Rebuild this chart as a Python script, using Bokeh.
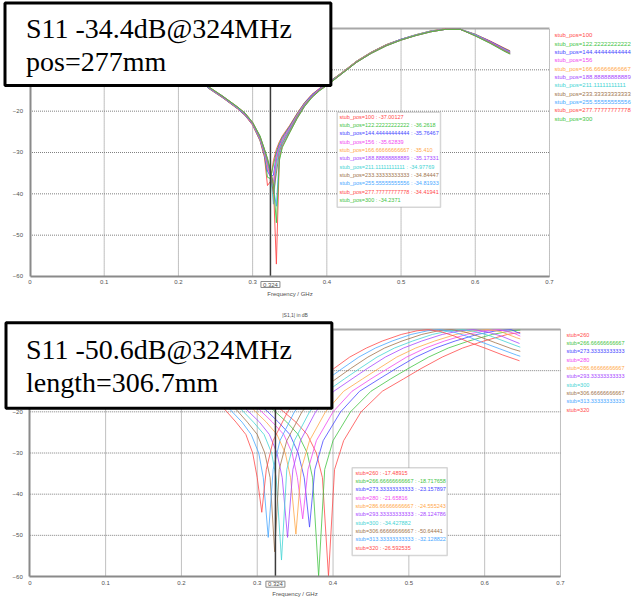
from bokeh.plotting import figure
from bokeh.models import Range1d, FixedTicker, Label, LabelSet, ColumnDataSource, BoxAnnotation
from bokeh.layouts import column
from bokeh.core.properties import value
from bokeh.embed import file_html
from bokeh.resources import INLINE

# ---------------- data: top panel (|S11| in dB vs frequency, stub_pos sweep) ----------------
FREQ_TOP = [0.200, 0.220, 0.240, 0.260, 0.280, 0.290, 0.300, 0.310, 0.316, 0.320, 0.324, 0.328,
            0.332, 0.336, 0.340, 0.350, 0.360, 0.370, 0.380, 0.390, 0.400, 0.420, 0.440, 0.460,
            0.480, 0.500, 0.520, 0.540, 0.560, 0.580, 0.600, 0.620, 0.640, 0.647]
POS_100 = [-8.0, -10.5, -14.4, -16.8, -19.5, -21.1, -23.4, -27.2, -31.2, -38.0, -37.0, -32.0, -29.2, -27.4, -26.0, -23.4, -20.5, -17.9, -15.9, -14.5, -13.3, -10.7, -7.9, -5.7, -3.9, -2.6, -1.5, -0.6, -0.1, -0.2, -1.4, -3.0, -4.8, -5.4]
POS_122 = [-8.0, -10.5, -14.4, -16.8, -19.4, -21.0, -23.3, -27.1, -30.8, -36.0, -36.3, -33.0, -29.8, -27.8, -26.3, -23.6, -20.6, -18.0, -16.0, -14.6, -13.3, -10.7, -7.9, -5.7, -3.9, -2.6, -1.5, -0.6, -0.1, -0.2, -1.4, -3.1, -4.9, -5.5]
POS_144 = [-7.9, -10.4, -14.3, -16.7, -19.4, -21.0, -23.2, -26.9, -30.5, -34.5, -35.8, -35.5, -30.5, -28.2, -26.6, -23.8, -20.8, -18.1, -16.1, -14.6, -13.4, -10.8, -8.0, -5.8, -4.0, -2.6, -1.6, -0.7, -0.1, -0.2, -1.5, -3.1, -5.0, -5.6]
POS_156 = [-7.9, -10.4, -14.3, -16.7, -19.3, -20.9, -23.2, -26.8, -30.3, -33.8, -35.6, -37.0, -31.0, -28.5, -26.8, -24.0, -20.9, -18.2, -16.2, -14.7, -13.5, -10.8, -8.0, -5.8, -4.0, -2.7, -1.6, -0.7, -0.1, -0.2, -1.5, -3.2, -5.1, -5.7]
POS_167 = [-7.9, -10.4, -14.2, -16.6, -19.3, -20.8, -23.1, -26.7, -30.1, -33.3, -35.4, -38.5, -31.5, -28.8, -27.0, -24.2, -21.0, -18.3, -16.3, -14.8, -13.5, -10.8, -8.0, -5.8, -4.0, -2.7, -1.6, -0.7, -0.1, -0.2, -1.6, -3.3, -5.2, -5.8]
POS_189 = [-7.9, -10.3, -14.2, -16.6, -19.2, -20.8, -23.0, -26.6, -29.9, -32.8, -35.2, -40.0, -32.0, -29.0, -27.2, -24.3, -21.2, -18.4, -16.3, -14.8, -13.6, -10.9, -8.1, -5.9, -4.1, -2.7, -1.6, -0.7, -0.2, -0.2, -1.6, -3.3, -5.2, -5.8]
POS_211 = [-7.9, -10.3, -14.1, -16.5, -19.2, -20.7, -22.9, -26.4, -29.7, -32.4, -35.0, -42.5, -33.0, -29.4, -27.5, -24.5, -21.3, -18.5, -16.4, -14.9, -13.6, -10.9, -8.1, -5.9, -4.1, -2.7, -1.6, -0.7, -0.2, -0.2, -1.6, -3.4, -5.3, -5.9]
POS_233 = [-7.8, -10.3, -14.1, -16.5, -19.1, -20.7, -22.9, -26.3, -29.5, -32.0, -34.8, -40.0, -35.0, -30.0, -27.8, -24.7, -21.4, -18.6, -16.5, -14.9, -13.7, -10.9, -8.1, -5.9, -4.1, -2.8, -1.7, -0.8, -0.2, -0.2, -1.7, -3.4, -5.4, -6.0]
POS_256 = [-7.8, -10.2, -14.1, -16.4, -19.1, -20.6, -22.8, -26.2, -29.4, -31.8, -34.8, -38.5, -43.0, -30.8, -28.2, -24.9, -21.6, -18.7, -16.6, -15.0, -13.7, -11.0, -8.2, -6.0, -4.2, -2.8, -1.7, -0.8, -0.2, -0.2, -1.7, -3.5, -5.5, -6.1]
POS_278 = [-7.8, -10.2, -14.0, -16.4, -19.0, -20.5, -22.7, -26.1, -29.3, -31.6, -34.4, -38.0, -57.0, -31.5, -28.5, -25.1, -21.7, -18.8, -16.6, -15.0, -13.8, -11.0, -8.2, -6.0, -4.2, -2.8, -1.7, -0.8, -0.2, -0.2, -1.8, -3.5, -5.5, -6.1]
POS_300 = [-7.8, -10.2, -14.0, -16.4, -19.0, -20.5, -22.7, -26.0, -29.2, -31.4, -34.2, -37.5, -47.0, -32.0, -28.8, -25.2, -21.8, -18.9, -16.7, -15.1, -13.8, -11.0, -8.2, -6.0, -4.2, -2.8, -1.7, -0.8, -0.2, -0.2, -1.8, -3.6, -5.6, -6.2]
TOP_LABELS = ["stub_pos=100", "stub_pos=122.22222222222", "stub_pos=144.44444444444", "stub_pos=156",
              "stub_pos=166.66666666667", "stub_pos=188.88888888889", "stub_pos=211.11111111111",
              "stub_pos=233.33333333333", "stub_pos=255.55555555556", "stub_pos=277.77777777778", "stub_pos=300"]
TOP_MARKER = ["-37.00127", "-36.2618", "-35.76467", "-35.62839", "-35.410", "-35.17331", "-34.97769",
              "-34.84447", "-34.81933", "-34.41941", "-34.2371"]
TOP_TITLE = "S11 -34.4dB@324MHz\npos=277mm"

# ---------------- data: bottom panel (stub length sweep) ----------------
F_260 = [0.200, 0.276, 0.299, 0.319, 0.335, 0.351, 0.366, 0.378, 0.386, 0.394, 0.402, 0.414, 0.437, 0.465, 0.493, 0.516, 0.544, 0.571, 0.599, 0.630, 0.647]
S_260 = [-4.7, -11.5, -15.0, -17.5, -20.0, -22.5, -25.5, -30.0, -36.0, -60.0, -34.0, -27.0, -20.0, -15.0, -12.0, -9.5, -6.7, -4.5, -2.8, -1.2, -0.7]
F_267 = [0.200, 0.267, 0.290, 0.309, 0.324, 0.339, 0.354, 0.366, 0.373, 0.381, 0.389, 0.400, 0.423, 0.450, 0.476, 0.499, 0.526, 0.552, 0.579, 0.610, 0.636, 0.647]
S_267 = [-5.2, -11.5, -15.0, -17.5, -20.0, -22.5, -25.5, -30.0, -36.0, -60.0, -34.0, -27.0, -20.0, -15.0, -12.0, -9.5, -6.7, -4.5, -2.8, -1.2, -0.3, -0.15]
F_273 = [0.200, 0.258, 0.280, 0.299, 0.314, 0.328, 0.343, 0.354, 0.362, 0.369, 0.376, 0.387, 0.410, 0.435, 0.461, 0.483, 0.509, 0.535, 0.561, 0.590, 0.616, 0.635, 0.647]
S_273 = [-5.8, -11.5, -15.0, -17.5, -20.0, -22.5, -25.5, -30.0, -36.0, -48.0, -34.0, -27.0, -20.0, -15.0, -12.0, -9.5, -6.7, -4.5, -2.8, -1.2, -0.3, -0.05, -1.0]
F_280 = [0.200, 0.252, 0.274, 0.292, 0.306, 0.320, 0.335, 0.346, 0.353, 0.360, 0.367, 0.378, 0.400, 0.425, 0.450, 0.472, 0.497, 0.522, 0.547, 0.576, 0.601, 0.619, 0.637, 0.647]
S_280 = [-6.2, -11.5, -15.0, -17.5, -20.0, -22.5, -25.5, -30.0, -36.0, -46.0, -34.0, -27.0, -20.0, -15.0, -12.0, -9.5, -6.7, -4.5, -2.8, -1.2, -0.3, -0.05, -0.8, -1.6]
F_287 = [0.200, 0.246, 0.267, 0.284, 0.298, 0.312, 0.326, 0.337, 0.344, 0.351, 0.358, 0.369, 0.390, 0.414, 0.439, 0.460, 0.484, 0.509, 0.534, 0.562, 0.586, 0.604, 0.621, 0.642, 0.647]
S_287 = [-6.6, -11.5, -15.0, -17.5, -20.0, -22.5, -25.5, -30.0, -36.0, -49.7, -34.0, -27.0, -20.0, -15.0, -12.0, -9.5, -6.7, -4.5, -2.8, -1.2, -0.3, -0.05, -0.5, -2.0, -2.3]
F_293 = [0.200, 0.238, 0.258, 0.275, 0.289, 0.303, 0.316, 0.326, 0.333, 0.340, 0.347, 0.357, 0.377, 0.401, 0.425, 0.445, 0.469, 0.493, 0.517, 0.544, 0.568, 0.585, 0.602, 0.622, 0.646]
S_293 = [-7.1, -11.5, -15.0, -17.5, -20.0, -22.5, -25.5, -30.0, -36.0, -50.5, -34.0, -27.0, -20.0, -15.0, -12.0, -9.5, -6.7, -4.5, -2.8, -1.2, -0.3, -0.05, -0.5, -1.6, -3.4]
F_300 = [0.200, 0.232, 0.252, 0.269, 0.282, 0.295, 0.309, 0.319, 0.325, 0.332, 0.339, 0.349, 0.369, 0.392, 0.415, 0.435, 0.458, 0.481, 0.505, 0.531, 0.554, 0.571, 0.588, 0.608, 0.631, 0.647]
S_300 = [-7.6, -11.5, -15.0, -17.5, -20.0, -22.5, -25.5, -30.0, -36.0, -56.0, -34.0, -27.0, -20.0, -15.0, -12.0, -9.5, -6.7, -4.5, -2.8, -1.2, -0.3, -0.05, -0.5, -1.6, -3.2, -4.3]
F_307 = [0.200, 0.226, 0.245, 0.262, 0.275, 0.287, 0.300, 0.310, 0.317, 0.323, 0.329, 0.339, 0.359, 0.381, 0.404, 0.423, 0.446, 0.468, 0.491, 0.517, 0.539, 0.556, 0.572, 0.591, 0.614, 0.636, 0.647]
S_307 = [-8.3, -11.5, -15.0, -17.5, -20.0, -22.5, -25.5, -30.0, -36.0, -54.0, -34.0, -27.0, -20.0, -15.0, -12.0, -9.5, -6.7, -4.5, -2.8, -1.2, -0.3, -0.05, -0.5, -1.6, -3.2, -4.7, -5.3]
F_313 = [0.200, 0.220, 0.239, 0.255, 0.267, 0.280, 0.292, 0.302, 0.308, 0.3145, 0.321, 0.330, 0.349, 0.371, 0.393, 0.412, 0.434, 0.456, 0.478, 0.503, 0.525, 0.541, 0.557, 0.576, 0.598, 0.620, 0.642, 0.647]
S_313 = [-8.9, -11.5, -15.0, -17.5, -20.0, -22.5, -25.5, -30.0, -36.0, -50.5, -34.0, -27.0, -20.0, -15.0, -12.0, -9.5, -6.7, -4.5, -2.8, -1.2, -0.3, -0.05, -0.5, -1.6, -3.2, -4.7, -6.2, -6.5]
F_320 = [0.200, 0.214, 0.233, 0.248, 0.260, 0.272, 0.285, 0.294, 0.300, 0.306, 0.312, 0.321, 0.340, 0.361, 0.383, 0.401, 0.422, 0.444, 0.465, 0.490, 0.511, 0.526, 0.542, 0.560, 0.581, 0.603, 0.624, 0.646]
S_320 = [-9.6, -11.5, -15.0, -17.5, -20.0, -22.5, -25.5, -30.0, -36.0, -44.4, -34.0, -27.0, -20.0, -15.0, -12.0, -9.5, -6.7, -4.5, -2.8, -1.2, -0.3, -0.05, -0.5, -1.6, -3.2, -4.7, -6.2, -7.6]
BOT_LABELS = ["stub=260", "stub=266.66666666667", "stub=273.33333333333", "stub=280", "stub=286.66666666667",
              "stub=293.33333333333", "stub=300", "stub=306.66666666667", "stub=313.33333333333", "stub=320"]
BOT_MARKER = ["-17.48915", "-18.717658", "-23.157897", "-21.65816", "-24.555243", "-28.124786",
              "-34.427882", "-50.64441", "-32.128822", "-26.592535"]
BOT_TITLE = "S11 -50.6dB@324MHz\nlength=306.7mm"
BOT_HEADER = "|S1,1| in dB"
MARKER_FREQ = 0.324
X_TICKS = [0, 0.1, 0.2, 0.3, 0.4, 0.5, 0.6, 0.7]
Y_TICKS = [-60, -50, -40, -30, -20, -10, 0]

# ---------------- styles ----------------
PALETTE = ["#ff4a4a", "#44c444", "#4848ff", "#f048f0", "#ffa848", "#a848ff", "#44d4d4",
           "#a0744c", "#48a8ff", "#ff4a4a", "#44c444"]
SMALL = "5.5px"
TICK_FONT = "Liberation Sans"
W, H = 632, 299


class Panel:
    """pixel <-> data mapping for one CST-style panel (layout only)."""
    def __init__(self, x0, xs, y0, ys):
        self.x0, self.xs, self.y0, self.ys = x0, xs, y0, ys

    def fx(self, px):
        return (px - self.x0) / self.xs

    def fy(self, py):
        return -(py - self.y0) / self.ys


def make_fig(m):
    p = figure(frame_width=W, frame_height=H,
               x_range=Range1d(m.fx(0), m.fx(W)), y_range=Range1d(m.fy(H), m.fy(0)),
               output_backend="svg", toolbar_location=None,
               min_border_left=0, min_border_right=0, min_border_top=0, min_border_bottom=0)
    p.outline_line_color = None
    p.xgrid.visible = False
    p.ygrid.visible = False
    xa, ya = p.xaxis[0], p.yaxis[0]
    xa.fixed_location = -60
    ya.fixed_location = 0
    xa.bounds = (0, 0.7)
    ya.bounds = (-60, 0)
    xa.ticker = FixedTicker(ticks=X_TICKS)
    ya.ticker = FixedTicker(ticks=Y_TICKS)
    xa.major_label_overrides = {0: "0"}
    for a in (xa, ya):
        a.major_tick_line_color = None
        a.minor_tick_line_color = None
        a.major_tick_out = 0
        a.major_tick_in = 0
        a.minor_tick_out = 0
        a.minor_tick_in = 0
        a.axis_line_color = "#8a8a8a"
        a.axis_line_width = 2
        a.major_label_text_font = TICK_FONT
        a.major_label_text_font_size = "6px"
        a.major_label_text_color = "#505050"
    ya.major_label_standoff = 7
    xa.major_label_standoff = 4
    xa.axis_label = "Frequency / GHz"
    xa.axis_label_text_font = TICK_FONT
    xa.axis_label_text_font_size = "6px"
    xa.axis_label_text_font_style = "normal"
    xa.axis_label_text_color = "#505050"
    xa.axis_label_standoff = 3
    # CST grid (dotted) and top/right border, from the tick arrays
    vx = [t for t in X_TICKS if t > 0]
    p.segment(x0=vx, y0=[-60] * len(vx), x1=vx, y1=[0] * len(vx),
              line_color="#808080", line_dash="1 1", line_width=1)
    hy = [t for t in Y_TICKS if -60 < t < 0]
    p.segment(x0=[0] * len(hy), y0=hy, x1=[0.7] * len(hy), y1=hy,
              line_color="#808080", line_dash="1 1", line_width=1)
    p.segment(x0=[0], y0=[0], x1=[0.7], y1=[0], line_color="#a8a8a8", line_width=2)
    return p


def add_common(p, m, labels, markers, n, leg, leg_size, box, txt, tick_y, title, title_xy, pad):
    # marker line
    p.segment(x0=[MARKER_FREQ], y0=[-60], x1=[MARKER_FREQ], y1=[0], line_color="#3c3c3c", line_width=1.5)
    cols = PALETTE[:n]
    lsrc = ColumnDataSource(dict(x=[m.fx(leg[0])] * n,
                                 y=[m.fy(leg[1] + k * leg[2]) for k in range(n)],
                                 text=labels, color=cols))
    p.add_layout(LabelSet(x="x", y="y", text="text", text_color="color", source=lsrc,
                          text_font=value("Liberation Sans"), text_font_size=leg_size,
                          text_baseline="middle", text_align="left"))
    p.add_layout(BoxAnnotation(left=m.fx(box[0]), right=m.fx(box[1]), top=m.fy(box[2]), bottom=m.fy(box[3]),
                               fill_color="white", fill_alpha=1.0, line_color="#777777", line_width=1.5))
    msrc = ColumnDataSource(dict(x=[m.fx(txt[0])] * n,
                                 y=[m.fy(txt[1] + k * txt[2]) for k in range(n)],
                                 text=[f"{a} : {b}" for a, b in zip(labels, markers)], color=cols))
    p.add_layout(LabelSet(x="x", y="y", text="text", text_color="color", source=msrc,
                          text_font=value("Liberation Sans"), text_font_size=SMALL,
                          text_baseline="middle", text_align="left"))
    p.add_layout(Label(x=MARKER_FREQ, y=m.fy(tick_y), text=f"{MARKER_FREQ}", text_align="center",
                       text_baseline="middle", text_font=TICK_FONT, text_font_size="6px",
                       text_color="#505050", background_fill_color="white",
                       border_line_color="#8a8a8a", border_line_width=1,
                       padding=dict(left=2, right=2, top=1, bottom=1)))
    p.add_layout(Label(x=m.fx(title_xy[0]), y=m.fy(title_xy[1]), text=title, text_align="left",
                       text_baseline="top", text_font="Liberation Serif", text_font_size="28px",
                       text_color="black", text_line_height=1.08,
                       background_fill_color="white", background_fill_alpha=1.0,
                       border_line_color="black", border_line_width=3, padding=pad))


# ---------------- top panel ----------------
m1 = Panel(29.5, 742.1, 28.0, 4.1333)
p1 = make_fig(m1)
top_series = [POS_100, POS_122, POS_144, POS_156, POS_167, POS_189, POS_211, POS_233, POS_256, POS_278, POS_300]
for k, s in enumerate(top_series):
    p1.line(FREQ_TOP, s, line_color=PALETTE[k], line_width=1, line_alpha=0.9)
add_common(p1, m1, TOP_LABELS, TOP_MARKER, 11,
           (554, 34.7, 8.36), "6px", (336.7, 440, 111.7, 206.7), (339, 116, 8.36), 284,
           TOP_TITLE, (4.5, 2.5), dict(left=21, right=39, top=10, bottom=8))

# ---------------- bottom panel ----------------
m2 = Panel(29.3, 758.1, 30.0, 4.1167)
p2 = make_fig(m2)
bot_f = [F_260, F_267, F_273, F_280, F_287, F_293, F_300, F_307, F_313, F_320]
bot_s = [S_260, S_267, S_273, S_280, S_287, S_293, S_300, S_307, S_313, S_320]
for k, (f, s) in enumerate(zip(bot_f, bot_s)):
    p2.line(f, s, line_color=PALETTE[k], line_width=1, line_alpha=0.8)
p2.add_layout(Label(x=m2.fx(294.6), y=m2.fy(15), text=BOT_HEADER, text_align="center", text_baseline="middle",
                    text_font=TICK_FONT, text_font_size="5px", text_color="#505050"))
add_common(p2, m2, BOT_LABELS, BOT_MARKER, 10,
           (566, 35, 8.37), SMALL, (351.7, 446.7, 168.3, 256), (355, 173.3, 8.33), 284.7,
           BOT_TITLE, (5.5, 23.2), dict(left=20, right=40, top=11, bottom=10))

layout = column(p1, p2)
open("out.html", "w").write(file_html(layout, INLINE))
